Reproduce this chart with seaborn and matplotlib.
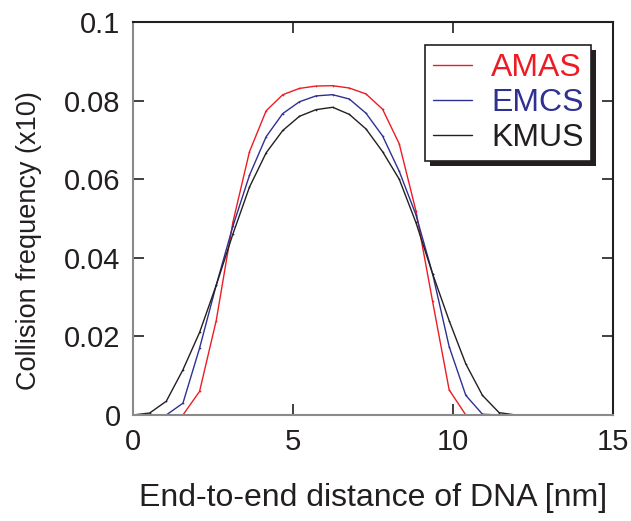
import numpy as np
import pandas as pd
import matplotlib
matplotlib.use("Agg")
import matplotlib.pyplot as plt
import seaborn as sns
from matplotlib.patches import Rectangle

# ---- data ----
distance = [0.0, 0.52, 1.04, 1.56, 2.08, 2.6, 3.12, 3.64, 4.16, 4.68, 5.2, 5.72, 6.24,
            6.76, 7.28, 7.8, 8.32, 8.84, 9.36, 9.88, 10.4, 10.92, 11.44, 11.96, 12.48, 13.0]
amas = [0, 0, 0, 0, 0.006, 0.024, 0.049, 0.067, 0.0774, 0.0815, 0.0831, 0.0837, 0.0838,
        0.0832, 0.0817, 0.0778, 0.069, 0.052, 0.029, 0.0064, 0.0, 0, 0, 0, 0, 0]
emcs = [0, 0, 0, 0.003, 0.017, 0.033, 0.048, 0.061, 0.0708, 0.0767, 0.0797, 0.0812, 0.0815,
        0.0804, 0.0768, 0.071, 0.062, 0.051, 0.036, 0.0174, 0.005, 0.0002, 0, 0, 0, 0]
kmus = [0, 0.0005, 0.0035, 0.0115, 0.021, 0.033, 0.046, 0.058, 0.0667, 0.0724, 0.076, 0.0777,
        0.0783, 0.0765, 0.0728, 0.067, 0.060, 0.049, 0.036, 0.024, 0.013, 0.005, 0.0006, 0, 0, 0]
series_names = ["AMAS", "EMCS", "KMUS"]
colors = {"AMAS": "#ED1C24", "EMCS": "#2E3192", "KMUS": "#231F20"}
xticks = [0, 5, 10, 15]
yticks = [0, 0.02, 0.04, 0.06, 0.08, 0.1]
ytick_labels = ["0", "0.02", "0.04", "0.06", "0.08", "0.1"]

df = pd.concat([
    pd.DataFrame({"x": distance, "y": vals, "method": name})
    for name, vals in zip(series_names, [amas, emcs, kmus])
], ignore_index=True)

sns.set_style("ticks")
plt.rcParams["font.family"] = ["Liberation Sans", "DejaVu Sans"]

fig = plt.figure(figsize=(6.31, 5.21), dpi=100)
ax = fig.add_axes([133 / 631, 1 - 415 / 521, 480 / 631, 393 / 521])

sns.lineplot(data=df, x="x", y="y", hue="method", hue_order=series_names,
             palette=colors, linewidth=1.0, marker=".", markersize=2.5,
             markeredgewidth=0, ax=ax, legend=True)

ax.set_xlim(0, 15)
ax.set_ylim(0, 0.1)
ax.set_xticks(xticks)
ax.set_xticklabels([str(t) for t in xticks])
ax.set_yticks(yticks)
ax.set_yticklabels(ytick_labels)
ax.tick_params(direction="in", top=True, right=True, length=8, width=1.2,
               labelsize=21, colors="#231F20", pad=9)
for side in ["top", "right", "left", "bottom"]:
    ax.spines[side].set_visible(True)
    ax.spines[side].set_linewidth(1.5)
    ax.spines[side].set_color("#231F20")
ax.spines["bottom"].set_color("#8A8A8A")
ax.spines["left"].set_color("#8A8A8A")

ax.set_xlabel("End-to-end distance of DNA [nm]", fontsize=23, color="#231F20", labelpad=20)
ax.set_ylabel("Collision frequency (x10)", fontsize=19.5, color="#231F20")
ax.yaxis.set_label_coords(-0.19, 0.445)

handles, labels = ax.get_legend_handles_labels()
for h in handles:
    h.set_marker("")
leg = ax.legend(handles, labels, loc="upper right", bbox_to_anchor=(0.955, 0.941),
                fontsize=23, frameon=True, fancybox=False, framealpha=1,
                edgecolor="#231F20", handlelength=1.2, handletextpad=0.6,
                borderpad=0.25, labelspacing=0.15, borderaxespad=0)
leg.get_frame().set_linewidth(1.2)
for txt, name in zip(leg.get_texts(), labels):
    txt.set_color(colors[name])

fig.canvas.draw()
bb = leg.get_window_extent()
inv = fig.transFigure.inverted()
(x0, y0) = inv.transform((bb.x0 + 5, bb.y0 - 5))
(x1, y1) = inv.transform((bb.x1 + 5, bb.y1 - 5))
shadow = Rectangle((x0, y0), x1 - x0, y1 - y0, transform=fig.transFigure,
                   facecolor="#231F20", edgecolor="none", zorder=4)
ax.add_artist(shadow)
shadow.set_transform(fig.transFigure)
shadow.set_clip_on(False)
leg.set_zorder(5)

fig.savefig("out.png", dpi=100)
